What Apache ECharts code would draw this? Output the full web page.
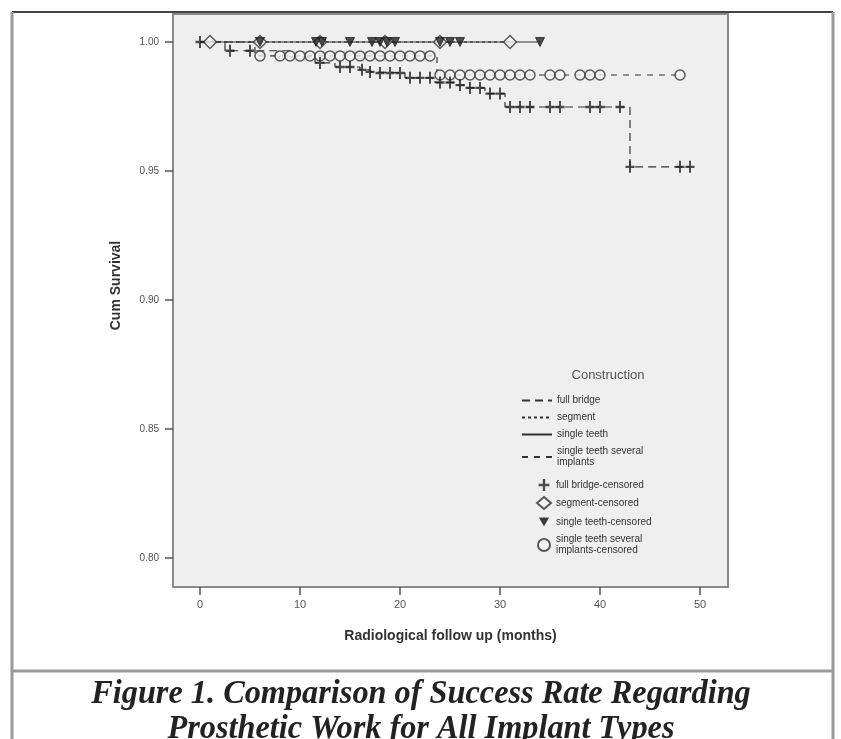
<!DOCTYPE html>
<html>
<head>
<meta charset="utf-8">
<script src="https://cdn.jsdelivr.net/npm/echarts@6/dist/echarts.min.js"></script>
<style>html,body{margin:0;padding:0;background:#fff}#c{width:841px;height:739px}</style>
</head>
<body>
<div id="c"></div>
<script>
// ---- data (months, cumulative survival) ----
const xTicks = [0, 10, 20, 30, 40, 50];
const yTicks = [0.80, 0.85, 0.90, 0.95, 1.00];

// Kaplan-Meier step curves: [time, survival after time]
const fullBridgeCurve = [[0,1.0],[2.5,0.9966],[9,0.9942],[11.5,0.9919],[13.5,0.9903],[16,0.9892],[17,0.9884],[17.5,0.9880],[20.5,0.9861],[23.5,0.9843],[25.5,0.9833],[26.5,0.9822],[28.5,0.9800],[30.5,0.9748],[43,0.9516],[49,0.9516]];
const segmentCurve = [[0,1.0],[31,1.0]];
const singleTeethCurve = [[0,1.0],[34,1.0]];
const severalImplantsCurve = [[0,1.0],[5.5,0.9946],[23.7,0.9872],[48,0.9872]];

// censored observations
const fullBridgeCensored = [[0,1.0],[3,0.9966],[5,0.9966],[12,0.9919],[14,0.9903],[15,0.9903],[16.2,0.9892],[17,0.9884],[18,0.9880],[19,0.9880],[20,0.9880],[21,0.9861],[22,0.9861],[23,0.9861],[24,0.9843],[25,0.9843],[26,0.9833],[27,0.9822],[28,0.9822],[29,0.9800],[30,0.9800],[31,0.9748],[32,0.9748],[33,0.9748],[35,0.9748],[36,0.9748],[39,0.9748],[40,0.9748],[42,0.9748],[43,0.9516],[48,0.9516],[49,0.9516]];
const segmentCensored = [[1,1.0],[6,1.0],[12,1.0],[18.5,1.0],[24,1.0],[31,1.0]];
const singleTeethCensored = [[6,1.0],[11.6,1.0],[12.2,1.0],[15,1.0],[17.2,1.0],[18,1.0],[18.7,1.0],[19.5,1.0],[24,1.0],[25,1.0],[26,1.0],[34,1.0]];
const severalImplantsCensored = [[6,0.9946],[8,0.9946],[9,0.9946],[10,0.9946],[11,0.9946],[12,0.9946],[13,0.9946],[14,0.9946],[15,0.9946],[16,0.9946],[17,0.9946],[18,0.9946],[19,0.9946],[20,0.9946],[21,0.9946],[22,0.9946],[23,0.9946],[24,0.9872],[25,0.9872],[26,0.9872],[27,0.9872],[28,0.9872],[29,0.9872],[30,0.9872],[31,0.9872],[32,0.9872],[33,0.9872],[35,0.9872],[36,0.9872],[38,0.9872],[39,0.9872],[40,0.9872],[48,0.9872]];

const names = ['full bridge','segment','single teeth','single teeth several implants'];
const censNames = names.map(n => n + '-censored');

const ink = '#333';
const crossPath = 'path://M4,0H6V4H9.5V6H6V10H4V6H0.5V4H4Z';
const downTriangle = 'path://M0,0 M14,14 M3,3L11,3L7,10Z';

function stepSeries(name, data, dash) {
  return {
    name, type: 'line', step: 'end', data, symbol: 'none', silent: true,
    lineStyle: { color: ink, width: 1.2, type: dash },
    itemStyle: { color: ink },
    z: 2
  };
}

const legendText = { fontFamily: 'Liberation Sans', fontSize: 10, color: '#333', lineHeight: 11 };

const chart = echarts.init(document.getElementById('c'));
chart.setOption({
  animation: false,
  backgroundColor: '#fff',
  title: [{
    text: 'Construction', left: 603, top: 364, textAlign: 'center',
    textStyle: { fontFamily: 'Liberation Sans', fontSize: 13, fontWeight: 'normal', color: '#555' }
  }],
  grid: {
    left: 173, top: 14, right: 113, bottom: 152, show: true,
    backgroundColor: '#efefef', borderColor: '#8a8a8a', borderWidth: 2
  },
  xAxis: {
    type: 'value', min: -2.7, max: 52.8,
    name: 'Radiological follow up (months)', nameLocation: 'middle', nameGap: 42,
    nameTextStyle: { fontFamily: 'Liberation Sans', fontSize: 14, fontWeight: 'bold', color: '#333' },
    axisLine: { show: false, onZero: false },
    splitLine: { show: false },
    axisTick: { show: true, customValues: xTicks, length: 8, lineStyle: { color: '#555', width: 1.5 } },
    axisLabel: { customValues: xTicks, margin: 12, fontFamily: 'Liberation Sans', fontSize: 11, color: '#555' }
  },
  yAxis: {
    type: 'value', min: 0.78876, max: 1.01085,
    name: 'Cum Survival', nameLocation: 'middle', nameGap: 50, nameRotate: 90,
    nameTextStyle: { fontFamily: 'Liberation Sans', fontSize: 14, fontWeight: 'bold', color: '#333', padding: [0, 0, 0, 30] },
    axisLine: { show: false, onZero: false },
    splitLine: { show: false },
    axisTick: { show: true, customValues: yTicks, length: 8, lineStyle: { color: '#555', width: 1.5 } },
    axisLabel: { customValues: yTicks, margin: 14, fontFamily: 'Liberation Sans', fontSize: 10, color: '#555',
      formatter: v => v.toFixed(2) }
  },
  legend: [{
    orient: 'vertical', left: 516, top: 390,
    itemWidth: 30, itemHeight: 12, itemGap: 6,
    data: names.map(n => ({ name: n, itemStyle: { opacity: 0 } })),
    formatter: n => n.replace('several ', 'several\n'),
    textStyle: legendText
  }, {
    orient: 'vertical', left: 531, top: 474,
    itemWidth: 14, itemHeight: 12, itemGap: 5,
    data: [
      { name: censNames[0] },
      { name: censNames[1] },
      { name: censNames[2], icon: downTriangle },
      { name: censNames[3] }
    ],
    formatter: n => n.replace('several ', 'several\n'),
    textStyle: legendText
  }],
  series: [
    stepSeries(names[0], fullBridgeCurve, [8, 5]),
    stepSeries(names[1], segmentCurve, [3, 3]),
    stepSeries(names[2], singleTeethCurve, 'solid'),
    stepSeries(names[3], severalImplantsCurve, [6, 6]),
    { name: censNames[0], type: 'scatter', data: fullBridgeCensored, symbol: crossPath, symbolSize: [9, 12],
      itemStyle: { color: '#222' }, z: 5 },
    { name: censNames[1], type: 'scatter', data: segmentCensored, symbol: 'diamond', symbolSize: 13,
      itemStyle: { color: '#f2f2f2', borderColor: '#333', borderWidth: 1.5 }, z: 4 },
    { name: censNames[2], type: 'scatter', data: singleTeethCensored, symbol: 'triangle', symbolRotate: 180, symbolSize: 9,
      itemStyle: { color: '#222', borderColor: '#222', borderWidth: 1 }, z: 6 },
    { name: censNames[3], type: 'scatter', data: severalImplantsCensored, symbol: 'circle', symbolSize: 10,
      itemStyle: { color: '#f2f2f2', borderColor: '#333', borderWidth: 1.5 }, z: 4 }
  ],
  graphic: [
    { type: 'line', shape: { x1: 12, y1: 12, x2: 833, y2: 12 }, style: { stroke: '#444', lineWidth: 2 }, silent: true },
    { type: 'line', shape: { x1: 12, y1: 12, x2: 12, y2: 739 }, style: { stroke: '#9a9a9a', lineWidth: 3 }, silent: true },
    { type: 'line', shape: { x1: 833, y1: 12, x2: 833, y2: 739 }, style: { stroke: '#9a9a9a', lineWidth: 3 }, silent: true },
    { type: 'line', shape: { x1: 12, y1: 671, x2: 833, y2: 671 }, style: { stroke: '#9a9a9a', lineWidth: 3 }, silent: true },
    { type: 'text', x: 421, y: 677, scaleX: 0.95, silent: true,
      style: { text: 'Figure 1. Comparison of Success Rate Regarding\nProsthetic Work for All Implant Types',
        fontFamily: 'Liberation Serif', fontSize: 34, fontWeight: 'bold', fontStyle: 'italic',
        fill: '#222', align: 'center', verticalAlign: 'top', lineHeight: 35 } }
  ]
});
</script>
</body>
</html>
